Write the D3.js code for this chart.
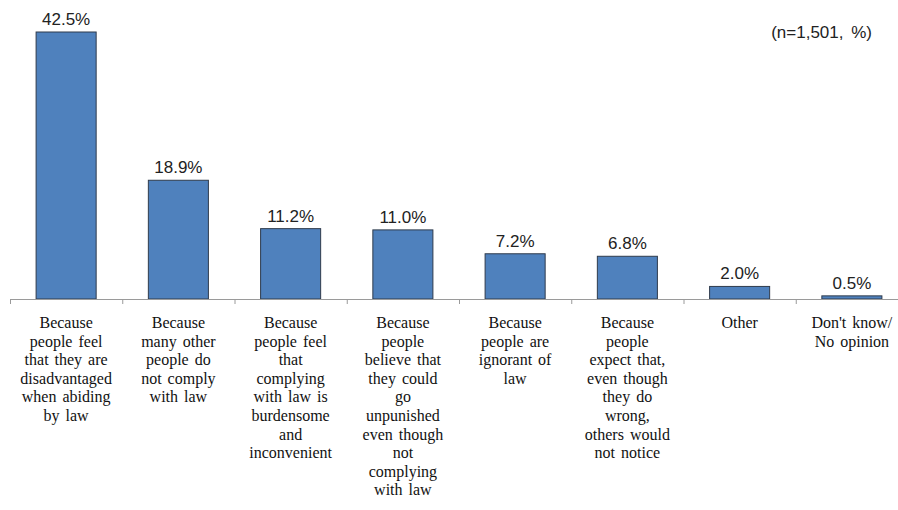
<!DOCTYPE html>
<html>
<head>
<meta charset="utf-8">
<script src="https://cdn.jsdelivr.net/npm/d3@7"></script>
<style>
  body { margin: 0; background: #fff; }
  .cat { font-family: "Liberation Serif", "Liberation Sans", Arial, sans-serif; }
</style>
</head>
<body>
<svg id="chart" width="898" height="510"></svg>
<script>
const categories = [
    ["Because", "people feel", "that they are", "disadvantaged", "when abiding", "by law"],
    ["Because", "many other", "people do", "not comply", "with law"],
    ["Because", "people feel", "that", "complying", "with law is", "burdensome", "and", "inconvenient"],
    ["Because", "people", "believe that", "they could", "go", "unpunished", "even though", "not", "complying", "with law"],
    ["Because", "people are", "ignorant of", "law"],
    ["Because", "people", "expect that,", "even though", "they do", "wrong,", "others would", "not notice"],
    ["Other"],
    ["Don't know/", "No opinion"]
]
const values = [42.5, 18.9, 11.2, 11.0, 7.2, 6.8, 2.0, 0.5]
const note = "(n=1,501,  %)"

const width = 898
const height = 510
const baseline = 299

const svg = d3.select("#chart")

const x = d3.scaleBand()
    .domain(d3.range(values.length))
    .range([10, 908])
    .paddingInner(0.465)
    .paddingOuter(0.2325)

const y = d3.scaleLinear()
    .domain([0, 42.5])
    .range([baseline, 32])

// bars
svg.selectAll("rect.bar")
    .data(values)
    .enter()
    .append("rect")
    .attr("class", "bar")
    .attr("x", (d, i) => x(i))
    .attr("y", d => y(d))
    .attr("width", x.bandwidth())
    .attr("height", d => baseline - y(d))
    .attr("fill", "#4f81bd")
    .attr("stroke", "#2f3b4c")
    .attr("stroke-width", 1)

// axis line and ticks
svg.append("line")
    .attr("x1", 10).attr("x2", width)
    .attr("y1", baseline + 0.5).attr("y2", baseline + 0.5)
    .attr("stroke", "#9a9a9a")

const step = x.step()
svg.selectAll("line.tick")
    .data(d3.range(values.length + 1))
    .enter()
    .append("line")
    .attr("class", "tick")
    .attr("x1", i => 10.5 + i * step)
    .attr("x2", i => 10.5 + i * step)
    .attr("y1", baseline)
    .attr("y2", baseline + 5)
    .attr("stroke", "#9a9a9a")

// value labels
svg.selectAll("text.value")
    .data(values)
    .enter()
    .append("text")
    .attr("class", "value")
    .attr("x", (d, i) => x(i) + x.bandwidth() / 2)
    .attr("y", d => y(d) - 7)
    .attr("text-anchor", "middle")
    .style("font-family", "'Liberation Sans', Arial, sans-serif")
    .style("font-size", "17px")
    .style("fill", "#222")
    .text(d => d.toFixed(1) + "%")

// category labels
const cat = svg.selectAll("text.cat")
    .data(categories)
    .enter()
    .append("text")
    .attr("class", "cat")
    .attr("text-anchor", "middle")
    .style("font-size", "16px")
    .style("word-spacing", "2px")
    .style("fill", "#111")

cat.each(function (lines, i) {
    d3.select(this).selectAll("tspan")
        .data(lines)
        .enter()
        .append("tspan")
        .attr("x", x(i) + x.bandwidth() / 2)
        .attr("y", (d, j) => 328 + j * 18.6)
        .text(d => d)
})

svg.append("text")
    .attr("x", 872)
    .attr("y", 38)
    .attr("text-anchor", "end")
    .style("font-family", "'Liberation Sans', Arial, sans-serif")
    .style("font-size", "17px")
    .style("word-spacing", "3px")
    .style("fill", "#222")
    .text(note)
</script>
</body>
</html>
